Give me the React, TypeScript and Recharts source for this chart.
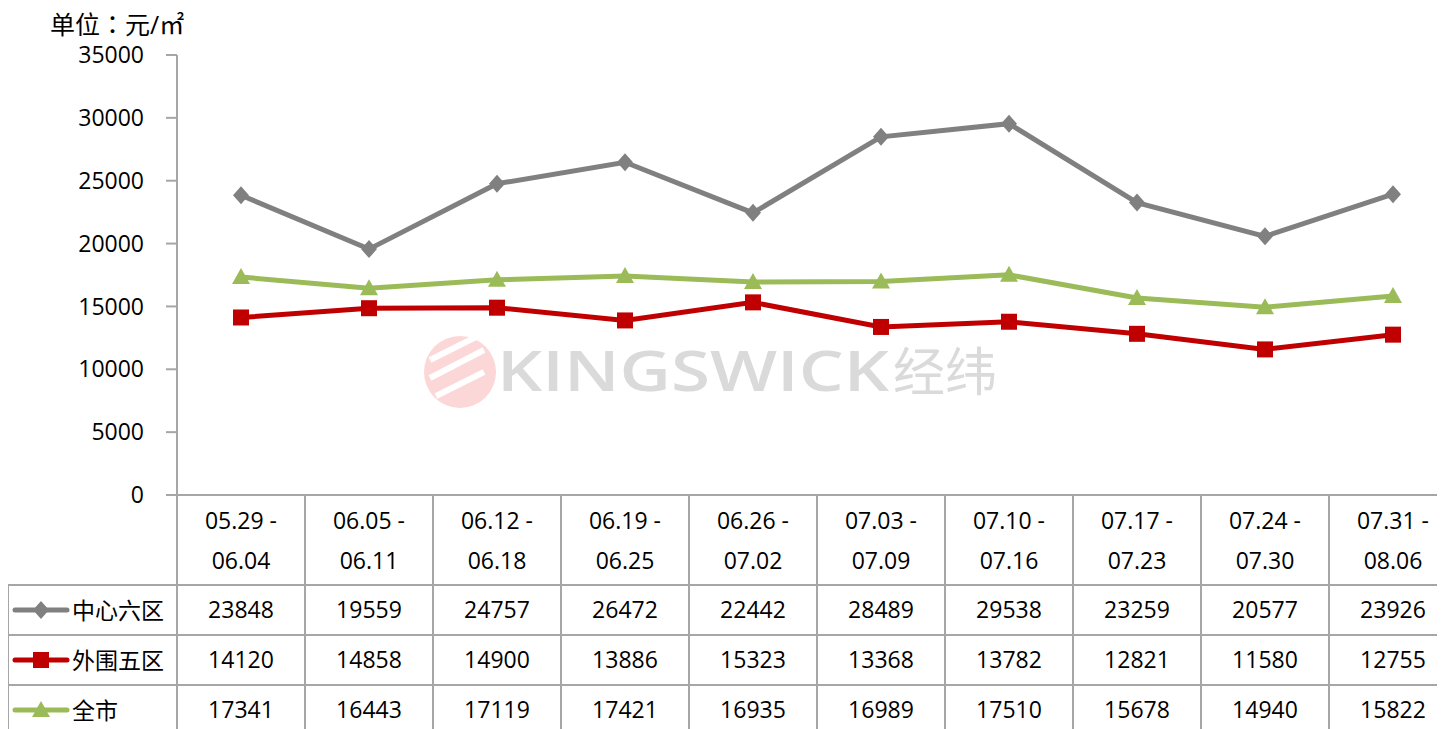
import { ComposedChart, Line, XAxis, YAxis } from 'recharts';

const categories = [
  '05.29-06.04', '06.05-06.11', '06.12-06.18', '06.19-06.25', '06.26-07.02',
  '07.03-07.09', '07.10-07.16', '07.17-07.23', '07.24-07.30', '07.31-08.06',
];
const centerSix = [23848, 19559, 24757, 26472, 22442, 28489, 29538, 23259, 20577, 23926];
const outerFive = [14120, 14858, 14900, 13886, 15323, 13368, 13782, 12821, 11580, 12755];
const wholeCity = [17341, 16443, 17119, 17421, 16935, 16989, 17510, 15678, 14940, 15822];
const yTicks = [0, 5000, 10000, 15000, 20000, 25000, 30000, 35000];

const series = [
  { key: 'center', name: '中心六区', values: centerSix, color: '#808080', shape: 'diamond' },
  { key: 'outer', name: '外围五区', values: outerFive, color: '#C00000', shape: 'square' },
  { key: 'city', name: '全市', values: wholeCity, color: '#9BBB59', shape: 'triangle' },
];

const data = categories.map((c, i) => ({
  name: c,
  center: centerSix[i],
  outer: outerFive[i],
  city: wholeCity[i],
}));

const FONT = '"Open Sans", "Noto Sans CJK SC", sans-serif';
const GRID = '#A6A6A6';
const W = 1460;
const H = 740;
const PLOT_LEFT = 177;
const PLOT_RIGHT = 1457;
const BAND = (PLOT_RIGHT - PLOT_LEFT) / categories.length;

const Marker = ({ cx, cy, shape, color }: any) => {
  if (cx == null || cy == null) return null;
  if (shape === 'diamond')
    return <polygon points={`${cx},${cy - 9} ${cx + 8},${cy} ${cx},${cy + 9} ${cx - 8},${cy}`} fill={color} />;
  if (shape === 'square') return <rect x={cx - 8} y={cy - 8} width={16} height={16} fill={color} />;
  return <polygon points={`${cx},${cy - 9} ${cx + 9},${cy + 7} ${cx - 9},${cy + 7}`} fill={color} />;
};

const TableTick = (props: any) => {
  const { x, y, payload, index } = props;
  const i = payload.index ?? index;
  const [a, b] = String(payload.value).split('-');
  const top = y;
  const rowTop = top + 90;
  return (
    <g fontFamily={FONT} fontSize={23} fill="#000">
      <line x1={x + BAND / 2} y1={top} x2={x + BAND / 2} y2={H} stroke={GRID} strokeWidth={2} />
      <text x={x} y={top + 34} textAnchor="middle">{a} -</text>
      <text x={x} y={top + 74} textAnchor="middle">{b}</text>
      {series.map((s, r) => (
        <text key={s.key} x={x} y={rowTop + 50 * r + 33} textAnchor="middle">
          {s.values[i]}
        </text>
      ))}
      {i === 0 && (
        <g>
          <line x1={PLOT_LEFT} y1={top} x2={PLOT_LEFT} y2={H} stroke={GRID} strokeWidth={2} />
          <line x1={8} y1={rowTop} x2={8} y2={H} stroke={GRID} strokeWidth={2} />
          {series.map((s, r) => {
            const ly = rowTop + 50 * r;
            const cy = ly + 25;
            return (
              <g key={s.key}>
                <line x1={8} y1={ly} x2={W} y2={ly} stroke={GRID} strokeWidth={2} />
                <line x1={15} y1={cy} x2={67} y2={cy} stroke={s.color} strokeWidth={5} strokeLinecap="round" />
                <Marker cx={41} cy={cy} shape={s.shape} color={s.color} />
                <text x={72} y={cy + 9} textAnchor="start">{s.name}</text>
              </g>
            );
          })}
        </g>
      )}
    </g>
  );
};

export default function App() {
  return (
    <div style={{ margin: -8, width: W, height: H, position: 'relative', background: '#fff' }}>
      <ComposedChart width={W} height={H} data={data} margin={{ top: 55, right: W - PLOT_RIGHT, bottom: 11, left: 0 }}>
        <text x={50} y={34} fontFamily={FONT} fontSize={25} fill="#000">
          单位<tspan fontFamily='"Noto Sans CJK JP", sans-serif'>：</tspan>元/㎡
        </text>
        <g opacity={0.9}>
          <circle cx={460} cy={372} r={36} fill="#FBD3D3" />
          <line x1={430} y1={360} x2={480} y2={335} stroke="#fff" strokeWidth={6} />
          <line x1={430} y1={378} x2={484} y2={350} stroke="#fff" strokeWidth={6} />
          <line x1={436} y1={396} x2={484} y2={372} stroke="#fff" strokeWidth={6} />
          <text x={497} y={391} fontFamily={FONT} fontWeight={600} fontSize={56} fill="#D6D6D6" textLength={392} lengthAdjust="spacingAndGlyphs">
            KINGSWICK
          </text>
          <text x={893} y={391} fontFamily='"Noto Sans CJK SC", sans-serif' fontSize={52} fill="#D6D6D6">
            经纬
          </text>
        </g>
        <YAxis
          width={PLOT_LEFT}
          domain={[0, 35000]}
          ticks={yTicks}
          interval={0}
          tickSize={11}
          tickMargin={22}
          axisLine={{ stroke: GRID, strokeWidth: 2 }}
          tickLine={{ stroke: GRID, strokeWidth: 2 }}
          tick={{ fill: '#000', fontSize: 23, fontFamily: FONT }}
        />
        <XAxis
          dataKey="name"
          height={234}
          interval={0}
          padding={{ left: BAND / 2, right: BAND / 2 }}
          tickSize={0}
          tickMargin={0}
          tickLine={false}
          axisLine={{ stroke: GRID, strokeWidth: 2 }}
          tick={<TableTick />}
        />
        {series.map((s) => (
          <Line
            key={s.key}
            dataKey={s.key}
            name={s.name}
            stroke={s.color}
            strokeWidth={5}
            isAnimationActive={false}
            dot={(p: any) => <Marker key={`${s.key}-${p.index}`} cx={p.cx} cy={p.cy} shape={s.shape} color={s.color} />}
            activeDot={false}
          />
        ))}
      </ComposedChart>
    </div>
  );
}
